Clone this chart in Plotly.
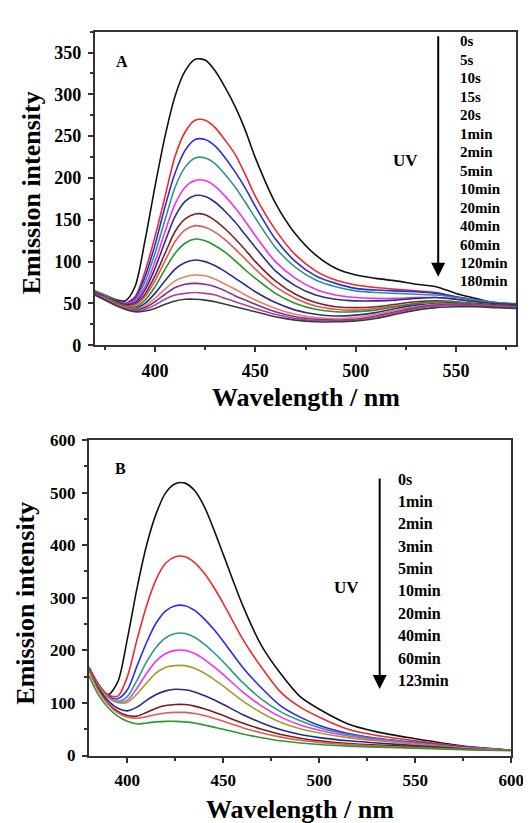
import plotly.graph_objects as go

# ---------------- Panel A data ----------------
wl_a = [370, 375, 380, 385, 390, 395, 400, 405, 410, 415, 420, 425, 430, 435, 440,
        445, 450, 460, 470, 480, 490, 500, 510, 520, 530, 540, 550, 560, 570, 580]
a_0s = [65, 60, 55, 53, 70, 125, 190, 250, 298, 328, 342, 341, 328, 308, 285,
        257, 224, 170, 133, 108, 92, 84, 80, 77, 73, 70, 62, 56, 50, 48]
a_5s = [64, 59, 53, 50, 58, 88, 130, 178, 226, 255, 269, 269, 260, 245, 228,
        204, 178, 138, 108, 89, 78, 72, 69, 67, 65, 63, 58, 54, 50, 48]
a_10s = [64, 59, 53, 50, 56, 82, 120, 166, 206, 233, 246, 246, 238, 224, 207,
         188, 166, 127, 100, 83, 74, 68, 66, 65, 64, 62, 58, 54, 51, 49]
a_15s = [65, 60, 54, 50, 54, 76, 110, 150, 189, 213, 224, 224, 217, 204, 189,
         171, 152, 117, 93, 78, 70, 65, 63, 62, 61, 60, 57, 54, 51, 50]
a_20s = [64, 59, 53, 50, 53, 70, 100, 136, 169, 189, 197, 197, 190, 178, 164,
         148, 131, 100, 80, 67, 60, 57, 56, 56, 57, 57, 55, 52, 50, 48]
a_1min = [63, 58, 53, 49, 51, 66, 92, 124, 154, 172, 179, 178, 171, 160, 147,
          132, 117, 89, 71, 60, 55, 53, 53, 54, 56, 57, 55, 52, 50, 49]
a_2min = [63, 58, 52, 48, 49, 61, 83, 110, 136, 151, 157, 156, 149, 139, 127,
          114, 100, 77, 61, 51, 46, 45, 46, 49, 52, 53, 52, 50, 48, 47]
a_5min = [62, 57, 51, 47, 48, 58, 77, 101, 124, 138, 143, 141, 135, 126, 115,
          103, 91, 70, 56, 47, 43, 42, 44, 47, 50, 52, 51, 49, 47, 46]
a_10min = [62, 57, 51, 46, 46, 54, 70, 91, 110, 122, 127, 125, 119, 111, 101,
           90, 80, 62, 50, 43, 40, 40, 42, 46, 50, 52, 51, 49, 47, 46]
a_20min = [62, 56, 50, 45, 44, 50, 62, 77, 91, 99, 102, 100, 95, 88, 80,
           72, 64, 51, 42, 37, 35, 36, 39, 44, 48, 50, 50, 48, 46, 45]
a_40min = [61, 56, 50, 45, 43, 47, 56, 67, 77, 82, 84, 83, 79, 73, 67,
           60, 54, 44, 37, 33, 32, 33, 37, 42, 46, 49, 49, 48, 46, 45]
a_60min = [61, 55, 49, 44, 42, 45, 52, 61, 69, 73, 74, 73, 70, 65, 59,
           54, 49, 40, 34, 31, 30, 31, 35, 40, 45, 48, 49, 48, 46, 45]
a_120min = [61, 55, 49, 44, 41, 43, 48, 55, 60, 62, 63, 62, 60, 56, 52,
            48, 44, 37, 32, 29.5, 29, 30, 34, 39, 44, 47, 48, 47, 46, 45]
a_180min = [60, 54, 48, 43, 40, 41, 44, 49, 53, 55, 55, 54, 52, 49, 46,
            43, 40, 34, 30, 28, 28, 29, 32, 37, 42, 45, 46, 46, 45, 44]
labels_a = ["0s", "5s", "10s", "15s", "20s", "1min", "2min", "5min", "10min",
            "20min", "40min", "60min", "120min", "180min"]
series_a = [a_0s, a_5s, a_10s, a_15s, a_20s, a_1min, a_2min, a_5min, a_10min,
            a_20min, a_40min, a_60min, a_120min, a_180min]
colors_a = ["#111111", "#f02828", "#2a2ae6", "#2e9484", "#f030ee", "#2e2e86",
            "#7e2424", "#e05656", "#2a922a", "#2c2c8a", "#e8805e", "#84308c",
            "#a444a8", "#3a3a3a"]
xticks_a = [400, 450, 500, 550]
yticks_a = [0, 50, 100, 150, 200, 250, 300, 350]

# ---------------- Panel B data ----------------
wl_b = [380, 385, 390, 395, 400, 405, 410, 415, 420, 425, 430, 435, 440, 445,
        450, 460, 470, 480, 490, 500, 515, 530, 550, 575, 600]
b_0s = [168, 135, 116, 140, 222, 318, 400, 460, 500, 517, 518, 504, 474, 430,
        382, 286, 208, 155, 112, 88, 60, 45, 32, 18, 10]
b_1min = [168, 135, 115, 113, 150, 220, 285, 335, 366, 378, 378, 367, 347, 320,
          289, 222, 167, 120, 92, 73, 50, 38, 28, 17, 10]
b_2min = [167, 133, 113, 108, 125, 170, 215, 252, 275, 285, 285, 276, 260, 240,
          217, 168, 128, 94, 73, 57, 42, 33, 25, 16, 10]
b_3min = [166, 132, 111, 103, 112, 143, 178, 206, 224, 232, 232, 225, 212, 196,
          178, 139, 107, 83, 66, 53, 40, 32, 24, 15, 10]
b_5min = [166, 131, 110, 101, 105, 128, 156, 180, 194, 200, 200, 194, 183, 169,
          154, 121, 94, 73, 58, 48, 37, 30, 23, 15, 10]
b_10min = [167, 132, 111, 101, 101, 117, 138, 157, 168, 171, 171, 166, 157, 145,
           132, 104, 81, 63, 51, 43, 34, 28, 22, 14, 10]
b_20min = [165, 128, 104, 90, 85, 92, 105, 116, 123, 126, 125, 121, 114, 106,
           97, 78, 62, 49, 40, 34, 28, 24, 19, 13, 10]
b_40min = [163, 125, 99, 84, 76, 75, 82, 90, 95, 97, 97, 94, 89, 83,
           76, 62, 50, 40, 33, 28, 23, 20, 17, 12, 10]
b_60min = [162, 123, 97, 81, 73, 71, 74, 78, 81, 82, 82, 80, 76, 71,
           65, 53, 43, 35, 29, 25, 21, 18, 15, 12, 10]
b_123min = [152, 115, 91, 75, 65, 60, 62, 64, 65, 65, 64, 62, 58, 54,
            50, 41, 34, 28, 24, 21, 18, 16, 14, 11, 9]
labels_b = ["0s", "1min", "2min", "3min", "5min", "10min", "20min", "40min",
            "60min", "123min"]
series_b = [b_0s, b_1min, b_2min, b_3min, b_5min, b_10min, b_20min, b_40min,
            b_60min, b_123min]
colors_b = ["#111111", "#f22a2a", "#2a2af0", "#2e9a8a", "#f034f0", "#9e9e2e",
            "#2a2a88", "#7a1c1c", "#e05a5a", "#2a9a2a"]
xticks_b = [400, 450, 500, 550, 600]
yticks_b = [0, 100, 200, 300, 400, 500, 600]

W, H = 531, 823
FONT = "Liberation Serif"


def px(x):
    return x / W


def py(y):
    return 1 - y / H


fig = go.Figure()
for vals, name, col in zip(series_a, labels_a, colors_a):
    fig.add_trace(go.Scatter(x=wl_a, y=vals, name=name, mode="lines",
                             line=dict(color=col, width=1.6, shape="spline", smoothing=0.8),
                             xaxis="x", yaxis="y", showlegend=False))
for vals, name, col in zip(series_b, labels_b, colors_b):
    fig.add_trace(go.Scatter(x=wl_b, y=vals, name=name, mode="lines",
                             line=dict(color=col, width=1.6, shape="spline", smoothing=0.8),
                             xaxis="x2", yaxis="y2", showlegend=False))

axis_common = dict(showline=True, linecolor="#333333", linewidth=2, mirror=True,
                   ticks="outside", ticklen=5, tickwidth=1.5, tickcolor="#333333",
                   showgrid=False, zeroline=False, ticklabelstandoff=3)


def tf(size):
    return dict(family=FONT, size=size, color="#000000", weight="bold")


def minor(d):
    return dict(ticks="outside", ticklen=3, dtick=d, tickwidth=1.5, tickcolor="#333333")


fig.update_layout(
    width=W, height=H, margin=dict(l=0, r=0, t=0, b=0),
    paper_bgcolor="white", plot_bgcolor="white",
    xaxis=dict(domain=[px(89), px(521)], range=[370, 580], anchor="y",
               tickvals=xticks_a, tickfont=tf(18),
               minor=minor(25), **axis_common),
    yaxis=dict(domain=[py(336), py(15)], range=[0, 375], anchor="x",
               tickvals=yticks_a, tickfont=tf(18),
               minor=minor(25), **axis_common),
    xaxis2=dict(domain=[px(83), px(516)], range=[380, 600], anchor="y2",
                tickvals=xticks_b, tickfont=tf(17),
                minor=minor(25), **axis_common),
    yaxis2=dict(domain=[py(756), py(433)], range=[0, 600], anchor="x2",
                tickvals=yticks_b, tickfont=tf(17),
                minor=minor(50), **axis_common),
)

ann = []


def text(x, y, s, size, xanchor="center", angle=0):
    ann.append(dict(x=px(x), y=py(y), xref="paper", yref="paper", text="<b>%s</b>" % s,
                    showarrow=False, xanchor=xanchor, yanchor="middle", textangle=angle,
                    font=dict(family=FONT, size=size, color="black")))


# Panel A texts
text(117, 46, "A", 16)
text(407, 147, "UV", 17)
for i, lab in enumerate(labels_a):
    text(461, 25 + i * 18.9, lab, 15, xanchor="left")
text(305, 390, "Wavelength / nm", 26)
text(24, 180, "Emission intensity", 26, angle=-90)

# Panel B texts
text(115, 462, "B", 16)
text(347, 584, "UV", 17)
for i, lab in enumerate(labels_b):
    text(398, 473 + i * 22.9, lab, 16, xanchor="left")
text(299, 811, "Wavelength / nm", 26)
text(18, 600, "Emission intensity", 26, angle=-90)

# arrows
for (x0, y0, y1) in [(441, 24, 266), (381, 476, 688)]:
    ann.append(dict(x=px(x0), y=py(y1), xref="paper", yref="paper", ax=0, ay=-(y1 - y0),
                    axref="pixel", ayref="pixel", text="", showarrow=True,
                    arrowhead=2, arrowsize=1.4, arrowwidth=2, arrowcolor="black"))

fig.update_layout(annotations=ann)
fig.write_html("out.html")
